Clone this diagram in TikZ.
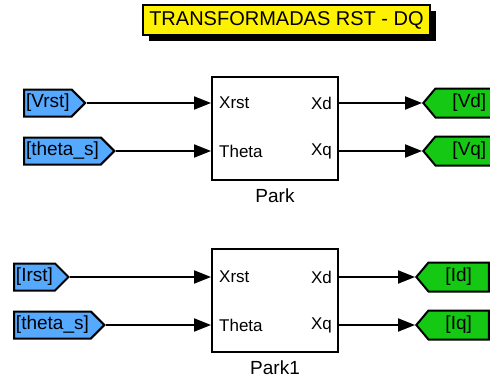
\documentclass[tikz,border=0pt]{standalone}
\usepackage{fontspec}
\setmainfont{Liberation Sans}
\usetikzlibrary{arrows.meta,shapes.symbols,shadows}
\definecolor{tagblue}{RGB}{85,170,255}
\definecolor{taggreen}{RGB}{20,200,20}

\begin{document}
\begin{tikzpicture}[x=1pt, y=-1pt]
    \tikzset{from tag/.style={draw, line width=2pt, fill=tagblue, shape=signal, signal to=east,
                signal pointer angle=90, minimum height=27pt, inner xsep=2pt, inner ysep=0pt,
                font=\fontsize{19}{22}\selectfont},
             goto tag/.style={draw, line width=2pt, fill=taggreen, shape=signal, signal to=west,
                signal pointer angle=100, minimum height=29pt, inner xsep=17pt, inner ysep=0pt,
                font=\fontsize{19}{22}\selectfont},
             park block/.style={draw, line width=2pt, fill=white, minimum width=126pt,
                minimum height=103pt, inner sep=0pt},
             port text/.style={inner sep=0pt, font=\fontsize{17}{20}\selectfont},
             block name/.style={inner sep=0pt, font=\fontsize{19}{22}\selectfont},
             title box/.style={draw, line width=1.5pt, fill=yellow, minimum width=287pt,
                minimum height=30pt, inner sep=0pt, font=\fontsize{20}{24}\selectfont,
                drop shadow={shadow xshift=6pt, shadow yshift=-6pt, fill=black, opacity=1}},
             wire/.style={line width=2pt, -{Triangle[length=17pt,width=13pt]}}}
    \clip (0, 0) rectangle (490, 378);
    % \draw[gray] (0, 0) grid[step=10pt] (490, 378);
    \node[title box] (title) at (286.5, 20) {TRANSFORMADAS RST - DQ};

    \node[park block] (park) at (275, 128.5) {};
    \node[port text, anchor=west] (pxrst) at (219, 103) {Xrst};
    \node[port text, anchor=west] (ptheta) at (219, 151) {Theta};
    \node[port text, anchor=east] (pxd) at (332, 103) {Xd};
    \node[port text, anchor=east] (pxq) at (332, 151) {Xq};
    \node[block name] (parkname) at (275, 196) {Park};

    \node[from tag, anchor=west] (vrst) at (23, 103) {[Vrst]};
    \node[from tag, anchor=west] (thetas) at (23, 151) {[theta\_s]};
    \node[goto tag, anchor=west] (vd) at (422, 103) {[Vd]};
    \node[goto tag, anchor=west] (vq) at (422, 151) {[Vq]};

    \node[park block] (park1) at (275, 300.5) {};
    \node[port text, anchor=west] (p1xrst) at (219, 277) {Xrst};
    \node[port text, anchor=west] (p1theta) at (219, 325) {Theta};
    \node[port text, anchor=east] (p1xd) at (332, 277) {Xd};
    \node[port text, anchor=east] (p1xq) at (332, 325) {Xq};
    \node[block name] (park1name) at (275, 368) {Park1};

    \node[from tag, anchor=west] (irst) at (13, 277) {[Irst]};
    \node[from tag, anchor=west] (thetas1) at (13, 325) {[theta\_s]};
    \node[goto tag, anchor=west] (id) at (415, 277) {[Id]};
    \node[goto tag, anchor=west] (iq) at (415, 325) {[Iq]};

    \draw [wire] (vrst.east) -- (vrst.east -| park.west);
    \draw [wire] (thetas.east) -- (thetas.east -| park.west);
    \draw [wire] (park.east |- vd.west) -- (vd.west);
    \draw [wire] (park.east |- vq.west) -- (vq.west);
    \draw [wire] (irst.east) -- (irst.east -| park1.west);
    \draw [wire] (thetas1.east) -- (thetas1.east -| park1.west);
    \draw [wire] (park1.east |- id.west) -- (id.west);
    \draw [wire] (park1.east |- iq.west) -- (iq.west);
\end{tikzpicture}
\end{document}
